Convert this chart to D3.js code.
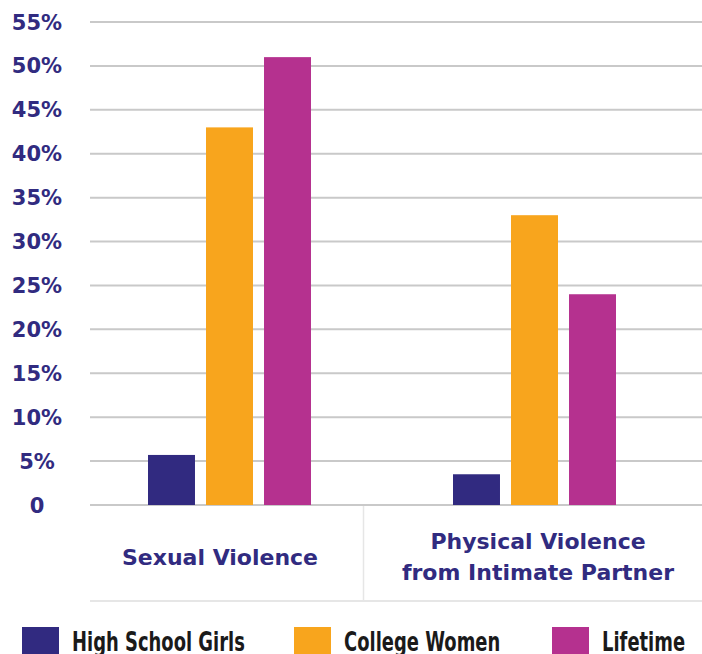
<!DOCTYPE html>
<html lang="en">
<head>
    <meta charset="UTF-8">
    <title>Violence against women</title>
    <style>
        body { margin: 0; background: #fff; }
        svg { display: block; }
        .tick-label { font-family: "DejaVu Sans", sans-serif; font-weight: bold; font-size: 21px; fill: #312b80; }
        .cat-label { font-family: "DejaVu Sans", sans-serif; font-weight: bold; font-size: 22px; fill: #312b80; }
        .legend-label { font-family: "DejaVu Sans", sans-serif; font-weight: bold; font-size: 26px; fill: #1a1a1a; }
    </style>
</head>
<body>
<script src="https://d3js.org/d3.v7.min.js"></script>
<script>
    // data
    const categories = ['Sexual Violence', 'Physical Violence\nfrom Intimate Partner'];
    const seriesNames = ['High School Girls', 'College Women', 'Lifetime'];
    const highSchool = [5.7, 3.5];
    const college = [43, 33];
    const lifetime = [51, 24];
    const yTicks = [0, 5, 10, 15, 20, 25, 30, 35, 40, 45, 50, 55];
    const colors = ['#312a80', '#f8a51d', '#b5318f'];

    const seriesValues = [highSchool, college, lifetime];

    const width = 702, height = 654;
    const svg = d3.select('body').append('svg')
        .attr('width', width)
        .attr('height', height);

    const y = d3.scaleLinear().domain([0, 55]).range([505, 22]);

    const x0 = d3.scaleBand().domain(categories).range([77, 687]);
    const x1 = d3.scaleBand().domain(seriesNames).range([0, 163]).paddingInner(0.19);
    const groupOffset = (x0.bandwidth() - 163) / 2;

    // gridlines
    svg.append('g').selectAll('line')
        .data(yTicks)
        .enter().append('line')
        .attr('x1', 90).attr('x2', width)
        .attr('y1', d => y(d)).attr('y2', d => y(d))
        .attr('stroke', '#c9c9c9')
        .attr('stroke-width', 2);

    // y tick labels
    svg.append('g').selectAll('text')
        .data(yTicks)
        .enter().append('text')
        .attr('class', 'tick-label')
        .attr('x', 37)
        .attr('y', d => y(d))
        .attr('dy', '0.36em')
        .attr('text-anchor', 'middle')
        .text(d => d === 0 ? '0' : d + '%');

    // bars
    const groups = svg.append('g').selectAll('g')
        .data(categories)
        .enter().append('g')
        .attr('transform', d => `translate(${x0(d) + groupOffset},0)`);

    groups.selectAll('rect')
        .data((d, i) => seriesNames.map((s, j) => ({ s: s, v: seriesValues[j][i], c: colors[j] })))
        .enter().append('rect')
        .attr('x', d => x1(d.s))
        .attr('width', x1.bandwidth())
        .attr('y', d => y(d.v))
        .attr('height', d => y(0) - y(d.v))
        .attr('fill', d => d.c);

    // category table lines
    svg.append('line')
        .attr('x1', 90).attr('x2', width)
        .attr('y1', 601).attr('y2', 601)
        .attr('stroke', '#e6e6e6').attr('stroke-width', 2);
    svg.append('line')
        .attr('x1', 363.5).attr('x2', 363.5)
        .attr('y1', 506).attr('y2', 601)
        .attr('stroke', '#e6e6e6').attr('stroke-width', 1.5);

    // category labels
    const labelCenters = [220, 538];
    categories.forEach((c, i) => {
        const lines = c.split('\n');
        const t = svg.append('text')
            .attr('class', 'cat-label')
            .attr('text-anchor', 'middle')
            .attr('x', labelCenters[i])
            .attr('y', lines.length === 1 ? 565 : 549);
        lines.forEach((l, k) => {
            t.append('tspan')
                .attr('x', labelCenters[i])
                .attr('dy', k === 0 ? 0 : 31)
                .text(l);
        });
    });

    // legend (condensed look via horizontal squeeze)
    const legendX = [22, 294, 552];
    const legend = svg.append('g').selectAll('g')
        .data(seriesNames)
        .enter().append('g')
        .attr('transform', (d, i) => `translate(${legendX[i]},627)`);
    legend.append('rect')
        .attr('width', 37).attr('height', 30)
        .attr('fill', (d, i) => colors[i]);
    legend.append('text')
        .attr('class', 'legend-label')
        .attr('transform', 'translate(50,24) scale(0.69,1)')
        .text(d => d);
</script>
</body>
</html>
